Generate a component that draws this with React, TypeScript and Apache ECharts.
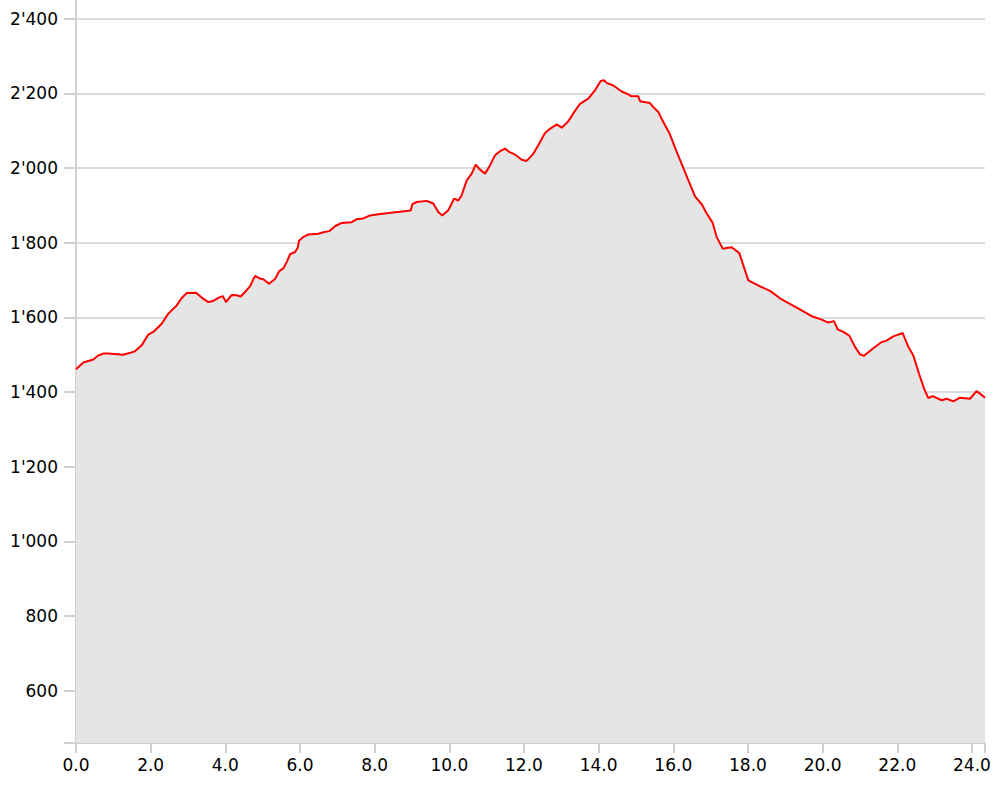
import React, { useEffect, useRef } from "react";
import * as echarts from "echarts";

const distanceKm: number[] = [
  0, 0.196, 0.463, 0.597, 0.731, 0.865, 1.267, 1.58, 1.76, 1.937, 2.071, 2.296, 2.473, 2.698, 2.832, 2.965,
  3.215, 3.367, 3.544, 3.678, 3.812, 3.93, 4.018, 4.171, 4.305, 4.412, 4.527, 4.661, 4.795, 4.929, 5.017,
  5.17, 5.331, 5.446, 5.553, 5.644, 5.733, 5.867, 5.939, 5.974, 6.089, 6.223, 6.491, 6.625, 6.785, 6.938,
  7.118, 7.385, 7.519, 7.696, 7.876, 8.098, 8.323, 8.679, 8.966, 9.009, 9.127, 9.395, 9.571, 9.705, 9.812,
  9.973, 10.064, 10.126, 10.241, 10.332, 10.466, 10.6, 10.707, 10.822, 10.956, 11.09, 11.224, 11.358, 11.492,
  11.607, 11.76, 11.94, 12.073, 12.25, 12.384, 12.564, 12.698, 12.877, 13.011, 13.188, 13.34, 13.501, 13.723,
  13.903, 14.055, 14.144, 14.216, 14.393, 14.618, 14.822, 14.859, 15.063, 15.109, 15.376, 15.465, 15.599,
  15.733, 15.893, 16.092, 16.314, 16.582, 16.761, 16.895, 17.056, 17.163, 17.324, 17.431, 17.565, 17.768,
  18.01, 18.323, 18.591, 18.904, 19.306, 19.708, 19.976, 20.153, 20.305, 20.404, 20.554, 20.715, 20.868,
  21.002, 21.109, 21.315, 21.583, 21.699, 21.894, 22.146, 22.296, 22.43, 22.583, 22.717, 22.831, 22.949,
  23.19, 23.324, 23.501, 23.681, 23.949, 24.128, 24.35,
];

const elevationM: number[] = [
  1461, 1479, 1487, 1498, 1503, 1503, 1500, 1509, 1525, 1554, 1561, 1583, 1610, 1632, 1652, 1665,
  1666, 1653, 1641, 1644, 1652, 1657, 1641, 1660, 1659, 1656, 1668, 1683, 1711, 1704, 1702,
  1690, 1703, 1724, 1731, 1748, 1769, 1775, 1786, 1805, 1815, 1822, 1824, 1828, 1831, 1844,
  1853, 1855, 1863, 1865, 1873, 1876, 1879, 1883, 1886, 1903, 1909, 1912, 1905, 1882, 1873,
  1887, 1905, 1918, 1913, 1927, 1967, 1985, 2009, 1996, 1985, 2007, 2034, 2045, 2052,
  2043, 2036, 2022, 2019, 2038, 2061, 2094, 2105, 2117, 2108, 2125, 2149, 2172, 2186,
  2208, 2233, 2235, 2228, 2221, 2205, 2196, 2193, 2192, 2179, 2174, 2163, 2150,
  2123, 2094, 2043, 1989, 1924, 1903, 1878, 1853, 1815, 1784, 1786, 1788, 1772,
  1699, 1683, 1671, 1648, 1626, 1603, 1594, 1586, 1590, 1568, 1561, 1551, 1521,
  1501, 1497, 1514, 1534, 1537, 1549, 1558, 1521, 1498, 1449, 1409, 1384, 1389,
  1378, 1382, 1375, 1385, 1382, 1403, 1385,
];

const yTickValues: number[] = [460, 600, 800, 1000, 1200, 1400, 1600, 1800, 2000, 2200, 2400];
const yLabelValues: number[] = [600, 800, 1000, 1200, 1400, 1600, 1800, 2000, 2200, 2400];

const fmtThousands = (v: number) => {
  const s = String(Math.round(v));
  return s.replace(/\B(?=(\d{3})+(?!\d))/g, "'");
};

export default function App() {
  const ref = useRef<HTMLDivElement>(null);
  useEffect(() => {
    if (!ref.current) return;
    const chart = echarts.init(ref.current, undefined, { renderer: "svg" });
    const data = distanceKm.map((d, i) => [d, elevationM[i]]);
    const axisGrey = "#d0d0d0";
    chart.setOption({
      animation: false,
      grid: { left: 76, right: 17, top: 0, bottom: 47 },
      xAxis: {
        type: "value",
        min: 0,
        max: 24.35,
        interval: 2,
        axisLine: { show: true, lineStyle: { color: axisGrey, width: 2 } },
        axisTick: { show: true, length: 10, lineStyle: { color: axisGrey, width: 2 } },
        splitLine: { show: false },
        axisLabel: {
          color: "#000",
          fontFamily: "DejaVu Sans",
          fontSize: 17,
          margin: 13,
          showMaxLabel: true,
          formatter: (v: number) =>
            Math.abs(v / 2 - Math.round(v / 2)) < 1e-6 ? v.toFixed(1) : "",
        },
      },
      yAxis: {
        type: "value",
        min: 460,
        max: 2450,
        axisLine: { show: true, lineStyle: { color: axisGrey, width: 2 } },
        axisTick: {
          show: true,
          length: 12,
          customValues: yTickValues,
          lineStyle: { color: axisGrey, width: 2 },
        },
        splitLine: { show: true, lineStyle: { color: "#dcdcdc", width: 2 } },
        axisLabel: {
          color: "#000",
          fontFamily: "DejaVu Sans",
          fontSize: 17,
          margin: 18,
          customValues: yLabelValues,
          formatter: (v: number) => fmtThousands(v),
        },
      },
      series: [
        {
          type: "line",
          data,
          symbol: "none",
          lineStyle: { color: "#ff0000", width: 2 },
          areaStyle: { color: "#e5e5e5", opacity: 1 },
          z: 3,
        },
      ],
    });
    return () => chart.dispose();
  }, []);
  return <div ref={ref} style={{ width: 1002, height: 790, position: "absolute", left: 0, top: 0 }} />;
}
